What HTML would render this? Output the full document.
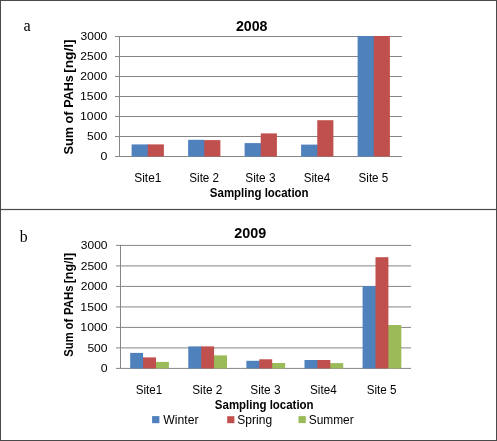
<!DOCTYPE html>
<html><head><meta charset="utf-8"><style>
html,body{margin:0;padding:0;background:#fff;overflow:hidden;}
svg{display:block;}
</style></head><body>
<svg width="497" height="441" viewBox="0 0 497 441">
<rect x="0" y="0" width="497" height="441" fill="#fff"/>
<rect x="115.00" y="36.00" width="287.00" height="1.00" fill="#868686"/>
<rect x="115.00" y="56.00" width="287.00" height="1.00" fill="#868686"/>
<rect x="115.00" y="76.00" width="287.00" height="1.00" fill="#868686"/>
<rect x="115.00" y="96.00" width="287.00" height="1.00" fill="#868686"/>
<rect x="115.00" y="116.00" width="287.00" height="1.00" fill="#868686"/>
<rect x="115.00" y="136.00" width="287.00" height="1.00" fill="#868686"/>
<rect x="115.00" y="156.00" width="287.00" height="1.00" fill="#868686"/>
<rect x="119.00" y="36.00" width="1.00" height="121.00" fill="#868686"/>
<rect x="131.61" y="144.40" width="16.94" height="12.10" fill="#4f81bd"/>
<rect x="147.75" y="144.40" width="16.14" height="12.10" fill="#c0504d"/>
<rect x="203.45" y="140.10" width="16.94" height="16.40" fill="#c0504d"/>
<rect x="188.11" y="139.80" width="16.14" height="16.70" fill="#4f81bd"/>
<rect x="244.61" y="143.10" width="16.94" height="13.40" fill="#4f81bd"/>
<rect x="260.75" y="133.40" width="16.14" height="23.10" fill="#c0504d"/>
<rect x="301.11" y="144.60" width="16.94" height="11.90" fill="#4f81bd"/>
<rect x="317.25" y="120.20" width="16.14" height="36.30" fill="#c0504d"/>
<rect x="357.61" y="36.00" width="16.94" height="120.50" fill="#4f81bd"/>
<rect x="373.75" y="36.00" width="16.14" height="120.50" fill="#c0504d"/>
<rect x="116.00" y="244.90" width="295.00" height="1.00" fill="#868686"/>
<rect x="116.00" y="265.40" width="295.00" height="1.00" fill="#868686"/>
<rect x="116.00" y="285.90" width="295.00" height="1.00" fill="#868686"/>
<rect x="116.00" y="306.40" width="295.00" height="1.00" fill="#868686"/>
<rect x="116.00" y="326.90" width="295.00" height="1.00" fill="#868686"/>
<rect x="116.00" y="347.40" width="295.00" height="1.00" fill="#868686"/>
<rect x="116.00" y="367.90" width="295.00" height="1.00" fill="#868686"/>
<rect x="120.00" y="244.90" width="1.00" height="124.00" fill="#868686"/>
<rect x="155.21" y="361.90" width="13.71" height="6.50" fill="#9bbb59"/>
<rect x="142.29" y="357.40" width="13.71" height="11.00" fill="#c0504d"/>
<rect x="130.18" y="352.90" width="12.91" height="15.50" fill="#4f81bd"/>
<rect x="213.31" y="355.40" width="13.71" height="13.00" fill="#9bbb59"/>
<rect x="188.28" y="346.40" width="13.71" height="22.00" fill="#4f81bd"/>
<rect x="201.19" y="346.40" width="12.91" height="22.00" fill="#c0504d"/>
<rect x="271.41" y="363.00" width="13.71" height="5.40" fill="#9bbb59"/>
<rect x="246.38" y="360.80" width="13.71" height="7.60" fill="#4f81bd"/>
<rect x="259.29" y="359.30" width="12.91" height="9.10" fill="#c0504d"/>
<rect x="329.51" y="363.10" width="13.71" height="5.30" fill="#9bbb59"/>
<rect x="304.48" y="360.00" width="13.71" height="8.40" fill="#4f81bd"/>
<rect x="317.39" y="360.00" width="12.91" height="8.40" fill="#c0504d"/>
<rect x="387.61" y="325.00" width="13.71" height="43.40" fill="#9bbb59"/>
<rect x="362.58" y="286.10" width="13.71" height="82.30" fill="#4f81bd"/>
<rect x="375.49" y="257.20" width="12.91" height="111.20" fill="#c0504d"/>
<text x="80.54" y="40.40" font-size="11.8" font-family='"Liberation Sans", Arial, sans-serif' textLength="26.73" lengthAdjust="spacingAndGlyphs" fill="#000">3000</text>
<text x="80.39" y="60.40" font-size="11.8" font-family='"Liberation Sans", Arial, sans-serif' textLength="26.88" lengthAdjust="spacingAndGlyphs" fill="#000">2500</text>
<text x="80.39" y="80.40" font-size="11.8" font-family='"Liberation Sans", Arial, sans-serif' textLength="26.88" lengthAdjust="spacingAndGlyphs" fill="#000">2000</text>
<text x="80.07" y="100.40" font-size="11.8" font-family='"Liberation Sans", Arial, sans-serif' textLength="27.21" lengthAdjust="spacingAndGlyphs" fill="#000">1500</text>
<text x="80.07" y="120.40" font-size="11.8" font-family='"Liberation Sans", Arial, sans-serif' textLength="27.21" lengthAdjust="spacingAndGlyphs" fill="#000">1000</text>
<text x="87.12" y="140.40" font-size="11.8" font-family='"Liberation Sans", Arial, sans-serif' textLength="20.16" lengthAdjust="spacingAndGlyphs" fill="#000">500</text>
<text x="100.42" y="160.40" font-size="11.8" font-family='"Liberation Sans", Arial, sans-serif' textLength="6.86" lengthAdjust="spacingAndGlyphs" fill="#000">0</text>
<text x="80.84" y="249.30" font-size="11.8" font-family='"Liberation Sans", Arial, sans-serif' textLength="26.73" lengthAdjust="spacingAndGlyphs" fill="#000">3000</text>
<text x="80.69" y="269.80" font-size="11.8" font-family='"Liberation Sans", Arial, sans-serif' textLength="26.88" lengthAdjust="spacingAndGlyphs" fill="#000">2500</text>
<text x="80.69" y="290.30" font-size="11.8" font-family='"Liberation Sans", Arial, sans-serif' textLength="26.88" lengthAdjust="spacingAndGlyphs" fill="#000">2000</text>
<text x="80.37" y="310.80" font-size="11.8" font-family='"Liberation Sans", Arial, sans-serif' textLength="27.21" lengthAdjust="spacingAndGlyphs" fill="#000">1500</text>
<text x="80.37" y="331.30" font-size="11.8" font-family='"Liberation Sans", Arial, sans-serif' textLength="27.21" lengthAdjust="spacingAndGlyphs" fill="#000">1000</text>
<text x="87.42" y="351.80" font-size="11.8" font-family='"Liberation Sans", Arial, sans-serif' textLength="20.16" lengthAdjust="spacingAndGlyphs" fill="#000">500</text>
<text x="100.72" y="372.30" font-size="11.8" font-family='"Liberation Sans", Arial, sans-serif' textLength="6.86" lengthAdjust="spacingAndGlyphs" fill="#000">0</text>
<rect x="0.00" y="0.00" width="497.00" height="1.00" fill="#4a4a4a"/>
<rect x="0.00" y="0.00" width="1.00" height="441.00" fill="#4a4a4a"/>
<rect x="496.00" y="0.00" width="1.00" height="441.00" fill="#4a4a4a"/>
<rect x="0.00" y="440.00" width="497.00" height="1.00" fill="#4a4a4a"/>
<rect x="0.00" y="208.90" width="497.00" height="1.20" fill="#4a4a4a"/>
<text x="23.43" y="31.00" font-size="16" font-family='"Liberation Serif", "Times New Roman", serif' textLength="7.19" lengthAdjust="spacingAndGlyphs" fill="#000">a</text>
<text x="19.70" y="242.00" font-size="16" font-family='"Liberation Serif", "Times New Roman", serif' textLength="7.90" lengthAdjust="spacingAndGlyphs" fill="#000">b</text>
<text x="235.91" y="30.70" font-size="14.5" font-family='"Liberation Sans", Arial, sans-serif' font-weight="bold" textLength="31.63" lengthAdjust="spacingAndGlyphs" fill="#000">2008</text>
<text x="234.20" y="238.40" font-size="14.5" font-family='"Liberation Sans", Arial, sans-serif' font-weight="bold" textLength="31.93" lengthAdjust="spacingAndGlyphs" fill="#000">2009</text>
<text x="134.26" y="182.00" font-size="12.2" font-family='"Liberation Sans", Arial, sans-serif' textLength="27.12" lengthAdjust="spacingAndGlyphs" fill="#000">Site1</text>
<text x="189.27" y="182.00" font-size="12.2" font-family='"Liberation Sans", Arial, sans-serif' textLength="29.82" lengthAdjust="spacingAndGlyphs" fill="#000">Site 2</text>
<text x="245.26" y="182.00" font-size="12.2" font-family='"Liberation Sans", Arial, sans-serif' textLength="30.26" lengthAdjust="spacingAndGlyphs" fill="#000">Site 3</text>
<text x="303.67" y="182.00" font-size="12.2" font-family='"Liberation Sans", Arial, sans-serif' textLength="26.47" lengthAdjust="spacingAndGlyphs" fill="#000">Site4</text>
<text x="358.57" y="182.00" font-size="12.2" font-family='"Liberation Sans", Arial, sans-serif' textLength="29.72" lengthAdjust="spacingAndGlyphs" fill="#000">Site 5</text>
<text x="135.67" y="394.00" font-size="12.2" font-family='"Liberation Sans", Arial, sans-serif' textLength="26.50" lengthAdjust="spacingAndGlyphs" fill="#000">Site1</text>
<text x="192.26" y="394.00" font-size="12.2" font-family='"Liberation Sans", Arial, sans-serif' textLength="30.13" lengthAdjust="spacingAndGlyphs" fill="#000">Site 2</text>
<text x="250.26" y="394.00" font-size="12.2" font-family='"Liberation Sans", Arial, sans-serif' textLength="30.26" lengthAdjust="spacingAndGlyphs" fill="#000">Site 3</text>
<text x="310.07" y="394.00" font-size="12.2" font-family='"Liberation Sans", Arial, sans-serif' textLength="26.57" lengthAdjust="spacingAndGlyphs" fill="#000">Site4</text>
<text x="366.77" y="394.00" font-size="12.2" font-family='"Liberation Sans", Arial, sans-serif' textLength="29.72" lengthAdjust="spacingAndGlyphs" fill="#000">Site 5</text>
<text x="209.87" y="197.00" font-size="12.3" font-family='"Liberation Sans", Arial, sans-serif' font-weight="bold" textLength="98.74" lengthAdjust="spacingAndGlyphs" fill="#000">Sampling location</text>
<text x="214.87" y="409.00" font-size="12.3" font-family='"Liberation Sans", Arial, sans-serif' font-weight="bold" textLength="98.74" lengthAdjust="spacingAndGlyphs" fill="#000">Sampling location</text>
<g transform="translate(73.40,0) rotate(-90)">
<text x="-154.57" y="0.00" font-size="13.6" font-family='"Liberation Sans", Arial, sans-serif' font-weight="bold" textLength="27.55" lengthAdjust="spacingAndGlyphs" fill="#000">Sum</text>
<text x="-123.50" y="0.00" font-size="13.6" font-family='"Liberation Sans", Arial, sans-serif' font-weight="bold" textLength="12.07" lengthAdjust="spacingAndGlyphs" fill="#000">of</text>
<text x="-107.82" y="0.00" font-size="13.6" font-family='"Liberation Sans", Arial, sans-serif' font-weight="bold" textLength="32.62" lengthAdjust="spacingAndGlyphs" fill="#000">PAHs</text>
<text x="-72.77" y="0.00" font-size="13.6" font-family='"Liberation Sans", Arial, sans-serif' font-weight="bold" textLength="33.33" lengthAdjust="spacingAndGlyphs" fill="#000">[ng/l]</text>
</g>
<g transform="translate(72.60,0) rotate(-90)">
<text x="-356.72" y="0.00" font-size="12.3" font-family='"Liberation Sans", Arial, sans-serif' font-weight="bold" textLength="24.42" lengthAdjust="spacingAndGlyphs" fill="#000">Sum</text>
<text x="-329.44" y="0.00" font-size="12.3" font-family='"Liberation Sans", Arial, sans-serif' font-weight="bold" textLength="10.72" lengthAdjust="spacingAndGlyphs" fill="#000">of</text>
<text x="-314.94" y="0.00" font-size="12.3" font-family='"Liberation Sans", Arial, sans-serif' font-weight="bold" textLength="29.60" lengthAdjust="spacingAndGlyphs" fill="#000">PAHs</text>
<text x="-283.30" y="0.00" font-size="12.3" font-family='"Liberation Sans", Arial, sans-serif' font-weight="bold" textLength="30.50" lengthAdjust="spacingAndGlyphs" fill="#000">[ng/l]</text>
</g>
<rect x="152.10" y="416.10" width="7.30" height="7.10" fill="#4f81bd"/>
<text x="163.25" y="424.00" font-size="12.2" font-family='"Liberation Sans", Arial, sans-serif' textLength="35.26" lengthAdjust="spacingAndGlyphs" fill="#000">Winter</text>
<rect x="227.20" y="416.20" width="7.20" height="7.00" fill="#c0504d"/>
<text x="237.35" y="424.00" font-size="12.2" font-family='"Liberation Sans", Arial, sans-serif' textLength="34.72" lengthAdjust="spacingAndGlyphs" fill="#000">Spring</text>
<rect x="298.50" y="416.10" width="7.30" height="7.00" fill="#9bbb59"/>
<text x="308.76" y="424.00" font-size="12.2" font-family='"Liberation Sans", Arial, sans-serif' textLength="44.94" lengthAdjust="spacingAndGlyphs" fill="#000">Summer</text>
</svg></body></html>
